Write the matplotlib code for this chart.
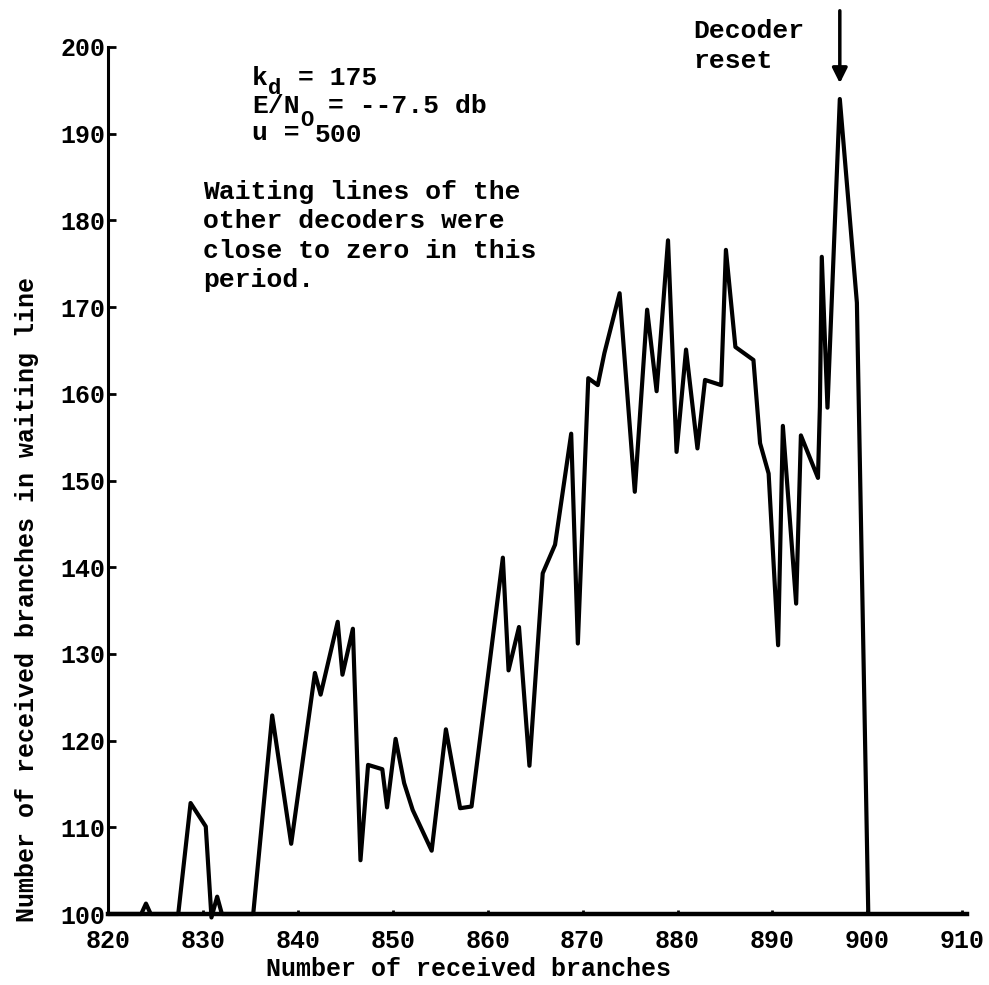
import matplotlib
matplotlib.use('Agg')
import matplotlib.pyplot as plt

# waiting line of the decoder
branches = [820, 823.5, 824.0, 824.5, 827.4, 828.7, 830.3, 830.9, 831.5, 832.0,
            835.3, 837.3, 839.3, 841.8, 842.4, 844.2, 844.7, 845.8, 846.6, 847.4,
            848.9, 849.4, 850.3, 851.2, 852.1, 854.1, 855.6, 857.1, 858.3, 861.6,
            862.2, 863.3, 864.4, 865.8, 867.1, 868.8, 869.5, 870.6, 871.6, 872.3,
            873.9, 875.5, 876.8, 877.8, 879.0, 879.9, 880.9, 882.1, 882.9, 884.6,
            885.1, 886.1, 888.0, 888.7, 889.6, 890.6, 891.1, 892.5, 893.0, 894.8,
            895.0, 895.2, 895.8, 897.1, 898.9, 900.1]
waiting = [100, 100, 101.2, 100, 100, 112.8, 110.1, 99.6, 102.0, 100,
           100, 122.9, 108.1, 127.8, 125.3, 133.7, 127.6, 132.9, 106.2, 117.2,
           116.7, 112.3, 120.2, 115.1, 112.0, 107.3, 121.3, 112.2, 112.4, 141.1,
           128.1, 133.1, 117.1, 139.3, 142.6, 155.4, 131.2, 161.8, 161.0, 164.7,
           171.6, 148.7, 169.7, 160.3, 177.7, 153.3, 165.1, 153.7, 161.6, 161.0,
           176.6, 165.4, 163.9, 154.3, 150.8, 131.0, 156.3, 135.8, 155.2, 150.3,
           158.5, 175.8, 158.4, 194.0, 170.5, 100]

xticks = list(range(820, 911, 10))
yticks = list(range(100, 201, 10))
reset_x, reset_y = 897.1, 195.5

W, H = 989, 985
fnt = 'Liberation Mono'

fig = plt.figure(figsize=(W / 100, H / 100), dpi=100)
ax = fig.add_axes([108 / W, 71 / H, (967 - 108) / W, (914 - 47) / H])

ax.plot(branches, waiting, color='black', lw=3, solid_joinstyle='round',
        solid_capstyle='round', clip_on=False)

ax.set_xlim(820, 910.5)
ax.set_ylim(100, 200)
ax.spines['top'].set_visible(False)
ax.spines['right'].set_visible(False)
ax.spines['bottom'].set_linewidth(3.2)
ax.spines['left'].set_linewidth(2.2)

ax.set_xticks(xticks)
ax.set_yticks(yticks)
ax.tick_params(axis='x', direction='in', length=3, width=2, pad=11)
ax.tick_params(axis='y', direction='in', length=6, width=2, pad=2)
for lab in ax.get_xticklabels():
    lab.set_fontfamily(fnt)
    lab.set_fontweight('bold')
    lab.set_fontsize(18)
for lab in ax.get_yticklabels():
    lab.set_fontfamily(fnt)
    lab.set_fontweight('bold')
    lab.set_fontsize(18)

ax.annotate('', xy=(reset_x, reset_y), xytext=(reset_x, 204.5),
            arrowprops=dict(arrowstyle='-|>,head_width=0.45,head_length=0.9',
                            color='black', lw=2.5),
            annotation_clip=False)


def txt(px, py, s, size=19, **kw):
    fig.text(px / W, 1 - py / H, s, fontfamily=fnt, fontweight='bold',
             fontsize=size, va='baseline', **kw)


# parameters
txt(252, 85, 'k')
txt(268, 94, 'd', size=16)
txt(298, 85, '= 175')
txt(252, 113, 'E/N')
txt(300, 126, 'O', size=16)
txt(328, 113, '= --7.5 db')
txt(252, 140, 'u =')
txt(315, 142, '500')

note = ['Waiting lines of the', 'other decoders were',
        'close to zero in this', 'period.']
for i, line in enumerate(note):
    txt(203, 199 + i * 29.5, line)

txt(693, 38, 'Decoder')
txt(693, 68, 'reset')

txt(468, 976, 'Number of received branches', size=18, ha='center')
fig.text(27 / W, 1 - 600 / H, 'Number of received branches in waiting line',
         fontfamily=fnt, fontweight='bold', fontsize=18, rotation=90,
         ha='center', va='center')

fig.savefig('out.png', dpi=100)
